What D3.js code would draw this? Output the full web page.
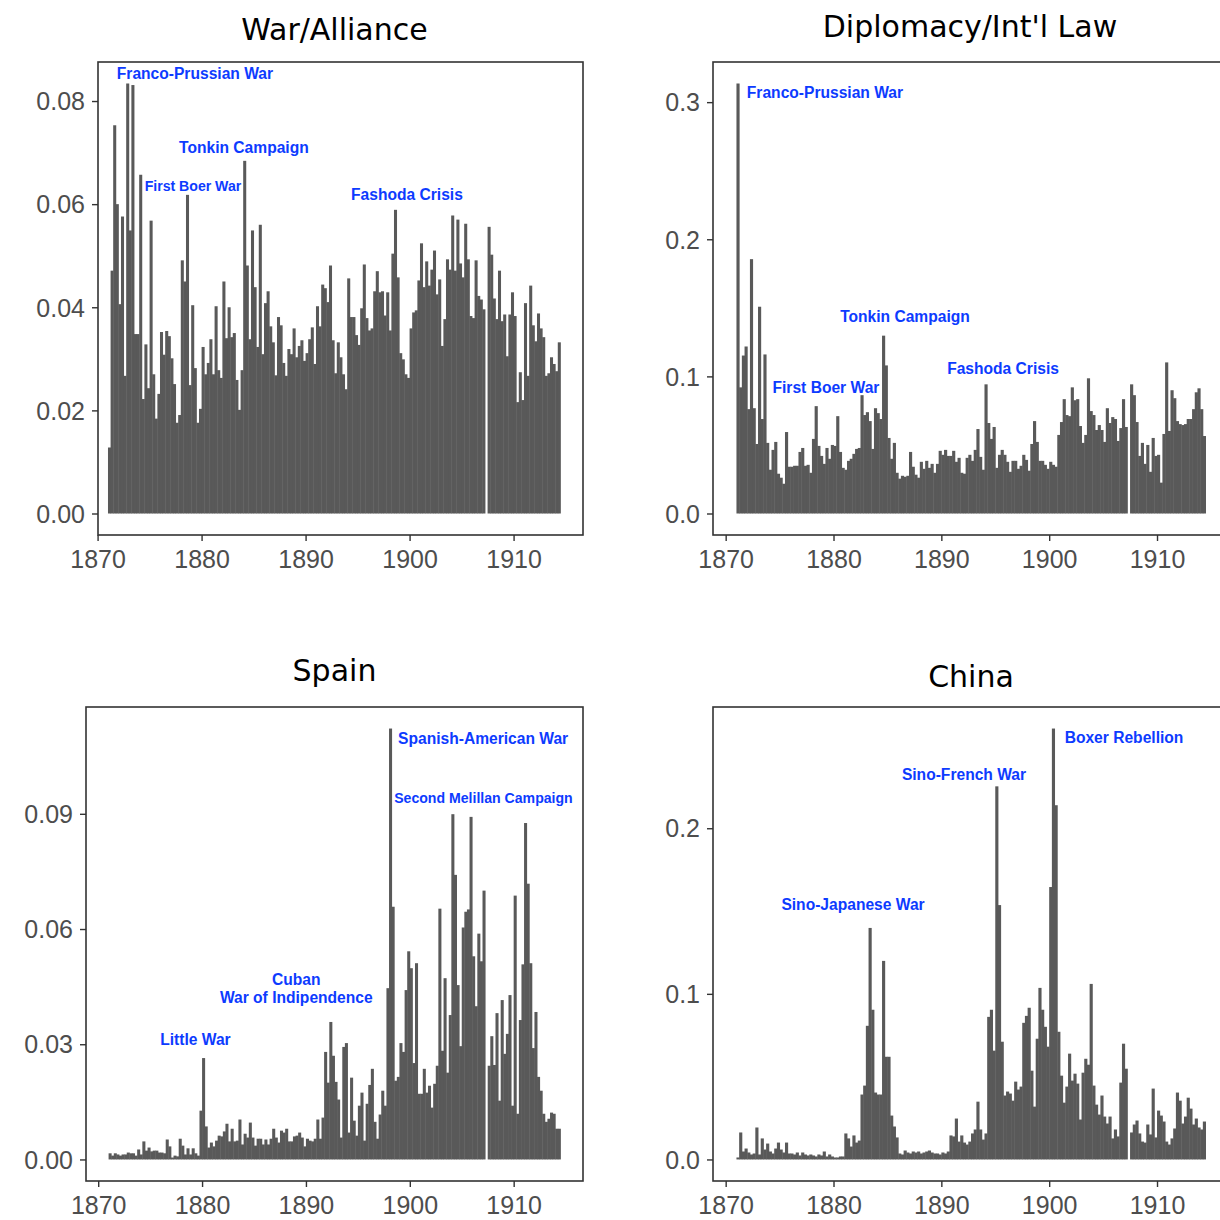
<!DOCTYPE html>
<html>
<head>
<meta charset="utf-8">
<script src="https://cdn.jsdelivr.net/npm/d3@7"></script>
<style>
  html, body { margin: 0; padding: 0; background: #ffffff; }
  svg { display: block; }
</style>
</head>
<body>
<svg id="chart" width="1220" height="1220"></svg>
<script>
// ---------- DATA (quarterly shares, 1871 Q1 .. 1914 Q2; null = missing quarter) ----------
const firstYear = 1871;
const quartersPerYear = 4;

const warAlliance = [
  0.0128, 0.0471, 0.0753, 0.0600, 0.0406, 0.0576, 0.0267, 0.0834, 0.0549, 0.0831,
  0.0348, 0.0348, 0.0657, 0.0222, 0.0328, 0.0243, 0.0568, 0.0270, 0.0184, 0.0232,
  0.0352, 0.0308, 0.0354, 0.0344, 0.0301, 0.0251, 0.0176, 0.0191, 0.0491, 0.0450,
  0.0618, 0.0249, 0.0404, 0.0282, 0.0176, 0.0203, 0.0323, 0.0270, 0.0292, 0.0338,
  0.0270, 0.0402, 0.0278, 0.0263, 0.0450, 0.0340, 0.0400, 0.0342, 0.0350, 0.0259,
  0.0201, 0.0278, 0.0684, 0.0481, 0.0338, 0.0549, 0.0439, 0.0323, 0.0560,
  0.0309, 0.0408, 0.0431, 0.0363, 0.0332, 0.0268, 0.0381, 0.0365, 0.0292, 0.0267,
  0.0319, 0.0309, 0.0359, 0.0303, 0.0325, 0.0336, 0.0296, 0.0311, 0.0338, 0.0361,
  0.0290, 0.0402, 0.0363, 0.0444, 0.0437, 0.0410, 0.0481, 0.0336, 0.0272,
  0.0332, 0.0303, 0.0270, 0.0241, 0.0456, 0.0381, 0.0381, 0.0346, 0.0327, 0.0398,
  0.0483, 0.0379, 0.0355, 0.0359, 0.0431, 0.0470, 0.0429, 0.0431, 0.0384, 0.0429,
  0.0355, 0.0504, 0.0589, 0.0458, 0.0311, 0.0299, 0.0270, 0.0263,
  0.0359, 0.0390, 0.0394, 0.0452, 0.0524, 0.0439, 0.0489, 0.0442, 0.0473, 0.0510,
  0.0425, 0.0454, 0.0325, 0.0377, 0.0493, 0.0473, 0.0578, 0.0471, 0.0570, 0.0485,
  0.0458, 0.0562, 0.0493, 0.0383, 0.0379, 0.0491, 0.0422, 0.0415, 0.0396,
  null,
  0.0556, 0.0502, 0.0417, 0.0377, 0.0471, 0.0373, 0.0386, 0.0305, 0.0386, 0.0429,
  0.0383, 0.0216, 0.0274, 0.0220, 0.0408, 0.0267, 0.0442, 0.0365, 0.0334, 0.0388,
  0.0359, 0.0342, 0.0267, 0.0272, 0.0303, 0.0290, 0.0276, 0.0332
];

const diplomacyLaw = [
  0.3136, 0.0920, 0.1152, 0.1218, 0.0761, 0.1855, 0.0768, 0.0507, 0.1508, 0.0689,
  0.1160, 0.0515, 0.0319, 0.0464, 0.0522, 0.0290, 0.0261, 0.0217, 0.0594, 0.0341,
  0.0341, 0.0348, 0.0348, 0.0449, 0.0478, 0.0348, 0.0355, 0.0297, 0.0544, 0.0783,
  0.0493, 0.0420, 0.0362, 0.0478, 0.0399, 0.0500, 0.0493, 0.0710, 0.0449, 0.0333,
  0.0319, 0.0384, 0.0399, 0.0435, 0.0471, 0.0478, 0.0863, 0.0718, 0.0739, 0.0674,
  0.0471, 0.0768, 0.0732, 0.0689, 0.1297, 0.1080,
  0.0551, 0.0399, 0.0515, 0.0297, 0.0254, 0.0275, 0.0268, 0.0275, 0.0449, 0.0341,
  0.0283, 0.0261, 0.0377, 0.0326, 0.0384, 0.0333, 0.0362, 0.0297, 0.0362, 0.0457,
  0.0428, 0.0464, 0.0420, 0.0420, 0.0457, 0.0377, 0.0406, 0.0297, 0.0290, 0.0406,
  0.0428, 0.0384, 0.0464, 0.0616, 0.0413, 0.0319, 0.0942, 0.0660, 0.0544, 0.0631,
  0.0333, 0.0428, 0.0464, 0.0428, 0.0377, 0.0304, 0.0384, 0.0384, 0.0326, 0.0348,
  0.0428, 0.0391, 0.0312, 0.0507, 0.0674, 0.0522, 0.0384, 0.0384,
  0.0355, 0.0326, 0.0377, 0.0355, 0.0341, 0.0573, 0.0667, 0.0834, 0.0718, 0.0710,
  0.0920, 0.0826, 0.0834, 0.0638, 0.0515, 0.0573, 0.0986, 0.0747, 0.0718, 0.0609,
  0.0645, 0.0609, 0.0522, 0.0768, 0.0660, 0.0703, 0.0689, 0.0529, 0.0623, 0.0834,
  0.0631,
  null,
  0.0942, 0.0863, 0.0667, 0.0420, 0.0515, 0.0362, 0.0500, 0.0304, 0.0551, 0.0420,
  0.0428, 0.0225, 0.0580, 0.1102, 0.0602, 0.0899, 0.0841, 0.0674, 0.0652, 0.0645,
  0.0652, 0.0689, 0.0689, 0.0761, 0.0884, 0.0913, 0.0761, 0.0565
];

const spain = [
  0.0016, 0.0010, 0.0016, 0.0013, 0.0010, 0.0013, 0.0013, 0.0018, 0.0016, 0.0016,
  0.0010, 0.0026, 0.0013, 0.0047, 0.0023, 0.0031, 0.0021, 0.0023, 0.0023, 0.0018,
  0.0018, 0.0016, 0.0052, 0.0034, 0.0005, 0.0010, 0.0008, 0.0054, 0.0036, 0.0013,
  0.0029, 0.0013, 0.0029, 0.0016, 0.0010, 0.0127, 0.0264, 0.0086, 0.0031, 0.0044,
  0.0034, 0.0049, 0.0062, 0.0060, 0.0073, 0.0093, 0.0047, 0.0080, 0.0047, 0.0049,
  0.0104, 0.0039, 0.0067, 0.0057, 0.0096, 0.0057, 0.0036, 0.0054,
  0.0054, 0.0039, 0.0052, 0.0039, 0.0054, 0.0080, 0.0057, 0.0044, 0.0075, 0.0070,
  0.0080, 0.0047, 0.0047, 0.0060, 0.0062, 0.0070, 0.0057, 0.0034, 0.0054, 0.0049,
  0.0047, 0.0054, 0.0104, 0.0054, 0.0109, 0.0280, 0.0200, 0.0358, 0.0270, 0.0202,
  0.0156, 0.0057, 0.0293, 0.0303, 0.0070, 0.0213, 0.0101, 0.0062, 0.0140, 0.0174,
  0.0049, 0.0145, 0.0194, 0.0236, 0.0098, 0.0054, 0.0117, 0.0179, 0.0140, 0.0446,
  0.1122, 0.0658, 0.0205, 0.0215, 0.0303, 0.0280, 0.0441, 0.0542, 0.0498, 0.0251,
  0.0511, 0.0171, 0.0171, 0.0236, 0.0174, 0.0192, 0.0135, 0.0197, 0.0244, 0.0653,
  0.0283, 0.0472, 0.0226, 0.0376, 0.0899, 0.0741, 0.0454, 0.0295, 0.0604, 0.0645,
  0.0651, 0.0892, 0.0529, 0.0399, 0.0588, 0.0516, 0.0700,
  null,
  0.0244, 0.0321, 0.0246, 0.0381, 0.0153, 0.0415, 0.0275, 0.0327, 0.0428, 0.0140,
  0.0687, 0.0119, 0.0363, 0.0508, 0.0876, 0.0718, 0.0511, 0.0290, 0.0384, 0.0215,
  0.0179, 0.0119, 0.0098, 0.0106, 0.0122, 0.0119, 0.0080, 0.0080
];

const china = [
  0.0012, 0.0163, 0.0048, 0.0066, 0.0042, 0.0030, 0.0036, 0.0193, 0.0030, 0.0127,
  0.0060, 0.0096, 0.0048, 0.0036, 0.0066, 0.0102, 0.0060, 0.0042, 0.0102, 0.0036,
  0.0036, 0.0030, 0.0042, 0.0024, 0.0042, 0.0030, 0.0024, 0.0030, 0.0024, 0.0018,
  0.0030, 0.0024, 0.0048, 0.0018, 0.0030, 0.0018, 0.0012, 0.0012, 0.0018, 0.0018,
  0.0157, 0.0127, 0.0078, 0.0145, 0.0102, 0.0114, 0.0392, 0.0446, 0.0807, 0.1398,
  0.0904, 0.0404, 0.0392, 0.0392, 0.1199, 0.0620, 0.0620,
  0.0265, 0.0199, 0.0133, 0.0036, 0.0030, 0.0054, 0.0042, 0.0036, 0.0048, 0.0042,
  0.0048, 0.0036, 0.0042, 0.0048, 0.0054, 0.0042, 0.0036, 0.0036, 0.0030, 0.0042,
  0.0036, 0.0048, 0.0145, 0.0139, 0.0247, 0.0108, 0.0145, 0.0102, 0.0090, 0.0108,
  0.0157, 0.0181, 0.0349, 0.0181, 0.0120, 0.0157, 0.0861, 0.0904, 0.0657,
  0.2253,
  0.1536, 0.0711, 0.0386, 0.0410, 0.0398, 0.0355, 0.0470, 0.0422, 0.0440, 0.0825,
  0.0867, 0.0916, 0.0536, 0.0319, 0.0729,
  0.1036, 0.0904, 0.0801, 0.0681, 0.1645,
  0.2602, 0.2139, 0.0771, 0.0506, 0.0343, 0.0440, 0.0639, 0.0476, 0.0518, 0.0458,
  0.0241, 0.0524, 0.0608, 0.0572, 0.1060, 0.0446, 0.0331, 0.0271, 0.0386, 0.0259,
  0.0217, 0.0259, 0.0127, 0.0181, 0.0139, 0.0464, 0.0699, 0.0548,
  null,
  0.0163, 0.0211, 0.0235, 0.0157, 0.0108, 0.0102, 0.0211, 0.0151, 0.0428, 0.0133,
  0.0295, 0.0265, 0.0229, 0.0108, 0.0090, 0.0127, 0.0187, 0.0404, 0.0355, 0.0217,
  0.0259, 0.0373, 0.0307, 0.0211, 0.0247, 0.0193, 0.0181, 0.0229
];

// Axis ticks and labels
const xTickYears = [1870, 1880, 1890, 1900, 1910];
const warTicks = [0, 0.02, 0.04, 0.06, 0.08];
const warTickLabels = ["0.00", "0.02", "0.04", "0.06", "0.08"];
const diplomacyTicks = [0, 0.1, 0.2, 0.3];
const diplomacyTickLabels = ["0.0", "0.1", "0.2", "0.3"];
const spainTicks = [0, 0.03, 0.06, 0.09];
const spainTickLabels = ["0.00", "0.03", "0.06", "0.09"];
const chinaTicks = [0, 0.1, 0.2];
const chinaTickLabels = ["0.0", "0.1", "0.2"];

// Event annotations (year, value)
const warNotes = [
  { label: "Franco-Prussian War", year: 1879.36, value: 0.0853 },
  { label: "Tonkin Campaign", year: 1884.07, value: 0.0709 },
  { label: "First Boer War", year: 1879.17, value: 0.0635 },
  { label: "Fashoda Crisis", year: 1899.75, value: 0.0618 }
];
const diplomacyNotes = [
  { label: "Franco-Prussian War", year: 1879.21, value: 0.3067 },
  { label: "Tonkin Campaign", year: 1886.63, value: 0.1440 },
  { label: "First Boer War", year: 1879.30, value: 0.0915 },
  { label: "Fashoda Crisis", year: 1895.72, value: 0.1054 }
];
const spainNotes = [
  { label: "Spanish-American War", year: 1907.06, value: 0.1097 },
  { label: "Second Melillan Campaign", year: 1907.09, value: 0.0941 },
  { label: "Cuban\nWar of Indipendence", year: 1889.07, value: 0.0444 },
  { label: "Little War", year: 1879.36, value: 0.0311 }
];
const chinaNotes = [
  { label: "Boxer Rebellion", year: 1906.94, value: 0.2545 },
  { label: "Sino-French War", year: 1892.10, value: 0.2327 },
  { label: "Sino-Japanese War", year: 1881.81, value: 0.1542 }
];

// ---------- LAYOUT / STYLE ----------
const panels = [
  { title: "War/Alliance", values: warAlliance, ticks: warTicks, tickLabels: warTickLabels, notes: warNotes,
    l: 98, r: 583, t: 62, b: 535, titleX: 334.5, titleY: 40, xMin: 1870.04,
    smallNotes: ["First Boer War"] },
  { title: "Diplomacy/Int'l Law", values: diplomacyLaw, ticks: diplomacyTicks, tickLabels: diplomacyTickLabels, notes: diplomacyNotes,
    l: 713, r: 1229, t: 62, b: 535, titleX: 970, titleY: 37, smallNotes: [] },
  { title: "Spain", values: spain, ticks: spainTicks, tickLabels: spainTickLabels, notes: spainNotes,
    l: 86, r: 583, t: 707, b: 1181, titleX: 334.5, titleY: 681, smallNotes: ["Second Melillan Campaign"] },
  { title: "China", values: china, ticks: chinaTicks, tickLabels: chinaTickLabels, notes: chinaNotes,
    l: 713, r: 1229, t: 707, b: 1181, titleX: 971, titleY: 687, smallNotes: [] }
];

const FONT = "'Liberation Sans', Arial, Helvetica, sans-serif";
const TITLEFONT = "'DejaVu Sans', Verdana, sans-serif";
const BAR = "#595959";
const FRAME = "#333333";
const TICKTXT = "#4D4D4D";
const NOTE = "#0D3BFF";
const NOTE_SIZE = 15.6;
const NOTE_SIZE_SMALL = 14.1;

const svg = d3.select("#chart");
svg.append("rect").attr("width", 1220).attr("height", 1220).attr("fill", "#ffffff");

panels.forEach(p => {
  const g = svg.append("g");
  const n = p.values.length;
  const x0 = firstYear, x1 = firstYear + n / quartersPerYear;
  const padX = (x1 - x0) * 0.05;
  const xLo = p.xMin !== undefined ? p.xMin : x0 - padX;
  const x = d3.scaleLinear().domain([xLo, x1 + padX]).range([p.l, p.r]);
  const maxV = d3.max(p.values);
  const y = d3.scaleLinear().domain([-0.05 * maxV, 1.05 * maxV]).range([p.b, p.t]);

  const clipId = "clip-" + p.title.replace(/[^A-Za-z]/g, "");
  g.append("clipPath").attr("id", clipId)
    .append("rect").attr("x", p.l).attr("y", p.t).attr("width", p.r - p.l).attr("height", p.b - p.t);

  const bars = p.values.map((v, i) => ({ i, v, start: firstYear + i / quartersPerYear }))
    .filter(d => d.v !== null);

  g.append("g").attr("clip-path", `url(#${clipId})`)
    .selectAll("rect").data(bars).join("rect")
    .attr("x", d => x(d.start))
    .attr("width", d => x(d.start + 1 / quartersPerYear) - x(d.start) + 0.45)
    .attr("y", d => y(d.v))
    .attr("height", d => y(0) - y(d.v))
    .attr("fill", BAR);

  // frame
  g.append("rect")
    .attr("x", p.l).attr("y", p.t)
    .attr("width", p.r - p.l).attr("height", p.b - p.t)
    .attr("fill", "none").attr("stroke", FRAME).attr("stroke-width", 1.6);

  // x axis
  const xa = g.append("g").attr("transform", `translate(0,${p.b})`)
    .call(d3.axisBottom(x).tickValues(xTickYears).tickFormat(d3.format("d")).tickSize(6).tickPadding(7));
  xa.select(".domain").remove();
  xa.selectAll("line").attr("stroke", FRAME).attr("stroke-width", 1.4);
  xa.selectAll("text").attr("fill", TICKTXT).attr("font-family", FONT).attr("font-size", 25)
    .attr("dy", "0.78em");

  // y axis
  const ya = g.append("g").attr("transform", `translate(${p.l},0)`)
    .call(d3.axisLeft(y).tickValues(p.ticks).tickFormat((d, i) => p.tickLabels[i]).tickSize(6).tickPadding(7));
  ya.select(".domain").remove();
  ya.selectAll("line").attr("stroke", FRAME).attr("stroke-width", 1.4);
  ya.selectAll("text").attr("fill", TICKTXT).attr("font-family", FONT).attr("font-size", 25)
    .attr("dy", "0.35em");

  // title
  g.append("text")
    .attr("x", p.titleX).attr("y", p.titleY)
    .attr("text-anchor", "middle")
    .attr("font-family", TITLEFONT).attr("font-size", 30).attr("fill", "#000000")
    .text(p.title);

  // annotations
  p.notes.forEach(nt => {
    const lines = nt.label.split("\n");
    const size = p.smallNotes.includes(nt.label) ? NOTE_SIZE_SMALL : NOTE_SIZE;
    const t = g.append("text")
      .attr("x", x(nt.year)).attr("y", y(nt.value))
      .attr("text-anchor", "middle")
      .attr("font-family", FONT).attr("font-weight", "bold").attr("font-size", size)
      .attr("fill", NOTE);
    lines.forEach((ln, k) => {
      t.append("tspan").attr("x", x(nt.year))
        .attr("dy", k === 0 ? (0.35 - (lines.length - 1) * 0.58) + "em" : "1.16em")
        .text(ln);
    });
  });
});
</script>
</body>
</html>
